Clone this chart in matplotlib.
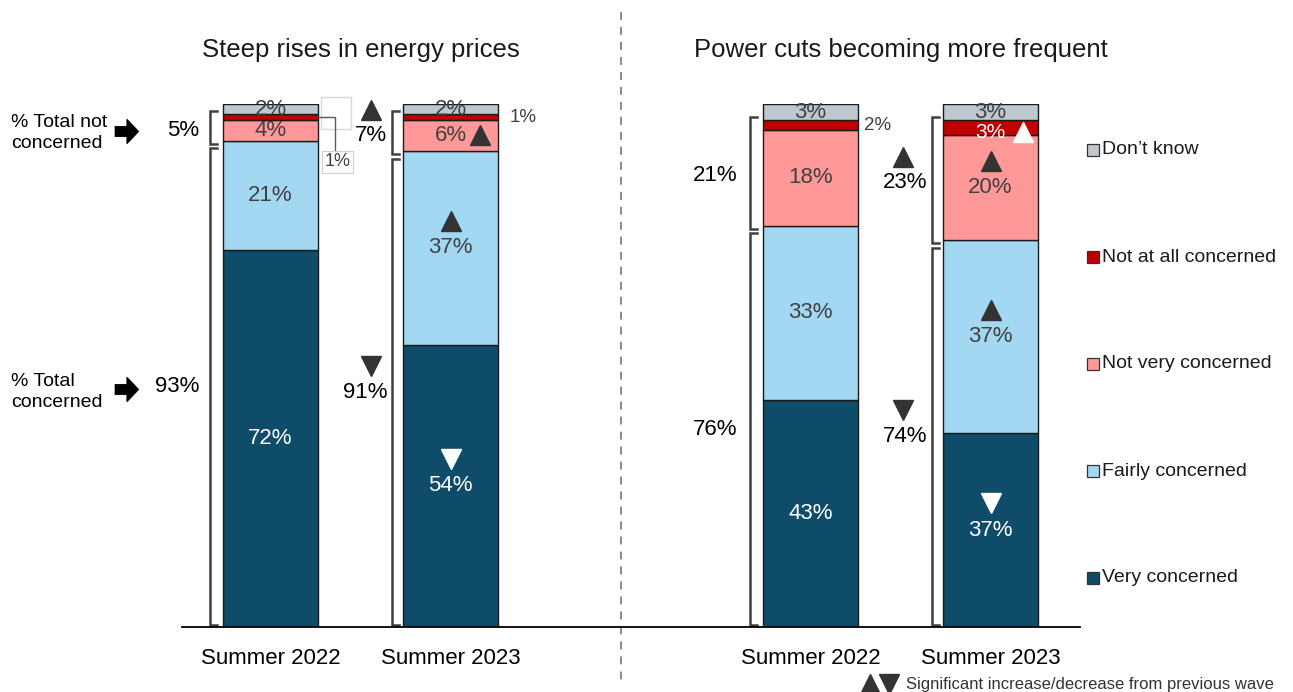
import matplotlib
matplotlib.use("Agg")
import matplotlib.pyplot as plt
import numpy as np

plt.rcParams['font.family'] = ['Liberation Sans', 'DejaVu Sans']

# data
waves = ["Summer 2022", "Summer 2023", "Summer 2022", "Summer 2023"]
titles = ["Steep rises in energy prices", "Power cuts becoming more frequent"]
segments = ["Very concerned", "Fairly concerned", "Not very concerned",
            "Not at all concerned", "Don\u2019t know"]
very = [72, 54, 43, 37]
fairly = [21, 37, 33, 37]
not_very = [4, 6, 18, 20]
not_at_all = [1, 1, 2, 3]
dont_know = [2, 2, 3, 3]
total_concerned = [93, 91, 76, 74]
total_not_concerned = [5, 7, 21, 23]

colors = ["#0F4C6A", "#A3D8F2", "#FF9999", "#C00000", "#BEC8CE"]
dark = "#333333"
txt = "#404040"

# pixel helpers for annotation placement (axes spans whole figure width)
def X(p):
    return (p - 270.5) / 180.0

def Y(p):
    return (627 - p) / 5.23

fig = plt.figure(figsize=(12.93, 6.92), dpi=100)
ax = fig.add_axes([0, 65 / 692, 1, 523 / 692])
ax.set_xlim(X(0), X(1293))
ax.set_ylim(0, 100)

pos = np.array([0, 1, 3, 4])
width = 95 / 180
stack = np.array([very, fairly, not_very, not_at_all, dont_know], dtype=float)
stack_n = stack / stack.sum(axis=0) * 100
bottoms = np.vstack([np.zeros(4), np.cumsum(stack_n, axis=0)[:-1]])

for i in range(5):
    ax.bar(pos, stack_n[i], width, bottom=bottoms[i], color=colors[i],
           edgecolor="#1a1a1a", linewidth=1, zorder=2)

mid = bottoms + stack_n / 2

def tri(x, y, up=True, color=dark, ms=15):
    ax.plot(x, y, marker="^" if up else "v", ms=ms, color=color,
            linestyle="none", clip_on=False, zorder=5)

# in-bar labels
for j in range(4):
    ax.text(pos[j], mid[0, j], f"{very[j]}%", ha="center", va="center",
            color="white", fontsize=16, zorder=4)
    ax.text(pos[j], mid[1, j], f"{fairly[j]}%", ha="center", va="center",
            color=txt, fontsize=16, zorder=4)
    ax.text(pos[j], mid[2, j], f"{not_very[j]}%", ha="center", va="center",
            color=txt, fontsize=16, zorder=4)
    ax.text(pos[j], mid[4, j] - 0.1, f"{dont_know[j]}%", ha="center", va="center",
            color=txt, fontsize=16, zorder=4)

# not at all labels
ax.text(pos[0] + 67 / 180, Y(162), f"{not_at_all[0]}%", ha="center", va="center",
        color=txt, fontsize=13, zorder=4,
        bbox=dict(boxstyle="square,pad=0.15", fc="white", ec="#D0D0D0", lw=0.8))
ax.plot([X(318), X(335), X(335)], [mid[3, 0], mid[3, 0], Y(150)],
        color="#595959", lw=1, clip_on=False, zorder=3)
ax.add_patch(plt.Rectangle((X(321), Y(129)), 30 / 180, 32 / 5.23, fill=False,
                           ec="#D9D9D9", lw=1, clip_on=False))
ax.text(pos[1] + 73 / 180, mid[3, 1], f"{not_at_all[1]}%", ha="center", va="center",
        color=txt, fontsize=13.5)
ax.text(pos[2] + 67 / 180, mid[3, 2], f"{not_at_all[2]}%", ha="center", va="center",
        color=txt, fontsize=13.5)
ax.text(pos[3], mid[3, 3] - 1.0, f"{not_at_all[3]}%", ha="center", va="center",
        color="white", fontsize=15, zorder=4)

# significance markers inside bars
up_off = 27 / 5.23
tri(pos[1] + 29 / 180, mid[2, 1], True)
tri(pos[1], mid[1, 1] + up_off, True)
tri(pos[1], mid[0, 1] + up_off, False, "white")
tri(pos[3] + 32 / 180, mid[3, 3] - 0.8, True, "white")
tri(pos[3], mid[2, 3] + up_off, True)
tri(pos[3], mid[1, 3] + up_off, True)
tri(pos[3], mid[0, 3] + up_off, False, "white")

# group brackets and totals
brk_x = [-60.5, -58.5, -61, -58.5]
lab_x = [-71, -63.5, -73, -63.5]
tri_x = [None, -80, None, -88]
conc_top = bottoms[2]
nc_top = bottoms[4]
for j in range(4):
    bx = pos[j] + brk_x[j] / 180
    tk = 7 / 180
    groups = [(0, conc_top[j], total_concerned[j]),
              (conc_top[j], nc_top[j], total_not_concerned[j])]
    for k, (lo, hi, val) in enumerate(groups):
        if k == 0:
            g_lo, g_hi = lo + 0.4, hi - 1.5
        else:
            g_lo, g_hi = lo - 0.6, hi + 0.6
        ax.plot([bx + tk, bx, bx, bx + tk], [g_lo, g_lo, g_hi, g_hi],
                color="#404040", lw=1.8, solid_joinstyle="miter", clip_on=False)
        ym = (lo + hi) / 2
        ax.text(pos[j] + lab_x[j] / 180, ym - 0.6, f"{val}%", ha="right",
                va="center", color="black", fontsize=16)
        if tri_x[j] is not None:
            tri(pos[j] + tri_x[j] / 180, ym + 4.4, k == 1)

# left annotations
arrow = [(-1, -0.4), (0.05, -0.4), (0.05, -1), (1, 0), (0.05, 1), (0.05, 0.4), (-1, 0.4)]
ax.text(X(11), Y(133), "% Total not\nconcerned", ha="left", va="center",
        fontsize=14, linespacing=1.3)
ax.plot(X(126), Y(131), marker=arrow, ms=17, color="black", clip_on=False)
ax.text(X(11), Y(392), "% Total\nconcerned", ha="left", va="center",
        fontsize=14, linespacing=1.3)
ax.plot(X(126), Y(389), marker=arrow, ms=17, color="black", clip_on=False)

# titles
ax.text(0.5, Y(50), titles[0], ha="center", va="center", fontsize=18.5, color="#1a1a1a")
ax.text(3.5, Y(50), titles[1], ha="center", va="center", fontsize=18.5, color="#1a1a1a")

# divider
ax.plot([X(621), X(621)], [Y(12), Y(682)], color="#808080", lw=1.3,
        dashes=(4.4, 3.9), clip_on=False)

# legend
leg_y = [150, 257, 364, 471, 578]
for i in range(5):
    ax.plot(X(1093), Y(leg_y[4 - i]), marker="s", ms=8, mfc=colors[i],
            mec="#333333", mew=0.9, clip_on=False)
    ax.text(X(1102), Y(leg_y[4 - i]), segments[i], ha="left", va="center",
            fontsize=14, color="#1a1a1a")

# footnote
tri(X(870), Y(684), True, dark, 14)
tri(X(889), Y(684), False, dark, 14)
ax.text(X(906), Y(684), "Significant increase/decrease from previous wave",
        ha="left", va="center", fontsize=12, color="#333333")

# axes
for s in ["top", "right", "left"]:
    ax.spines[s].set_visible(False)
ax.spines["bottom"].set_bounds(X(182), X(1080))
ax.spines["bottom"].set_linewidth(1.3)
ax.set_yticks([])
ax.set_xticks(pos)
ax.set_xticklabels(waves, fontsize=16)
ax.tick_params(axis="x", length=0, pad=15)
ax.patch.set_visible(False)

plt.savefig("out.png", dpi=100)
plt.close()
